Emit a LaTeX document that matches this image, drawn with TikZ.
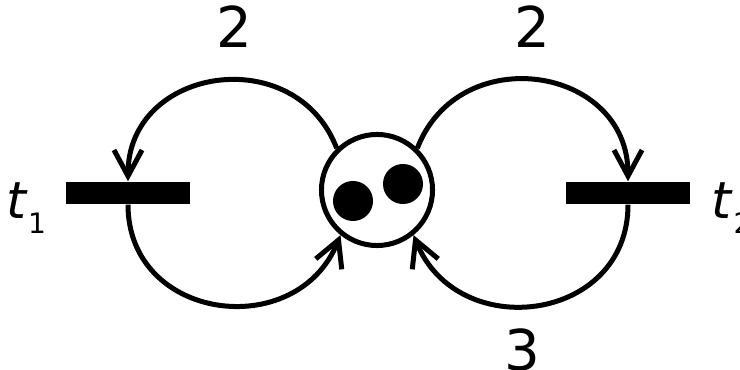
\documentclass[tikz,border=0pt]{standalone}
\usepackage{fontspec}
\setmainfont{DejaVu Sans}
\usetikzlibrary{positioning, arrows.meta}
\tikzstyle{place} = [
    circle,
    minimum size=1.11cm,
    inner sep=0pt,
    line width=0.05cm,
    draw=black
]
\tikzstyle{token} = [
    circle,
    minimum size=0.4cm,
    inner sep=0pt,
    fill=black
]
\tikzstyle{transition} = [
    rectangle,
    minimum width=1.23cm,
    minimum height=0.22cm,
    inner sep=0pt,
    fill=black
]
\tikzstyle{weight} = [
    inner sep=0pt,
    font=\fontsize{16}{19}\selectfont
]
\tikzstyle{tlabel} = [
    inner sep=0pt,
    font=\fontsize{14.5}{17}\selectfont
]
\tikzstyle{arrow} = [line width=0.05cm,-{Straight Barb[length=2.6mm,width=2.8mm]}]

\begin{document}
\begin{tikzpicture}[x=0.01cm, y=0.01cm]
\useasboundingbox (0,0) rectangle (740,370);

\node (p) [place] at (377,180) {};
\node (tok1) [token] at (353,169) {};
\node (tok2) [token] at (403,186) {};

\node (t1) [transition] at (128,177) {};
\node (t2) [transition] at (628,177) {};

\node (t1lab) [tlabel, anchor=base east] at ([xshift=-0.19cm, yshift=-0.25cm]t1.west)
    {\textit{t}\raisebox{-4.5pt}{\fontsize{8}{9}\selectfont 1}};
\node (t2lab) [tlabel, anchor=base west] at ([xshift=0.21cm, yshift=-0.25cm]t2.east)
    {\textit{t}\raisebox{-4.5pt}{\fontsize{8}{9}\selectfont 2}};

\draw [arrow] (p.134) to[out=111, in=90, looseness=1.39]
    node (w1) [weight, pos=0.44, above=0.3cm] {2} (t1.north);
\draw [arrow] (t1.south) to[out=-90, in=248, looseness=1.39] (p.231);
\draw [arrow] (p.46) to[out=69, in=90, looseness=1.39]
    node (w2) [weight, pos=0.48, above=0.3cm] {2} (t2.north);
\draw [arrow] (t2.south) to[out=-90, in=-68, looseness=1.39]
    node (w3) [weight, pos=0.55, below=0.2cm] {3} (p.-51);

\end{tikzpicture}
\end{document}
